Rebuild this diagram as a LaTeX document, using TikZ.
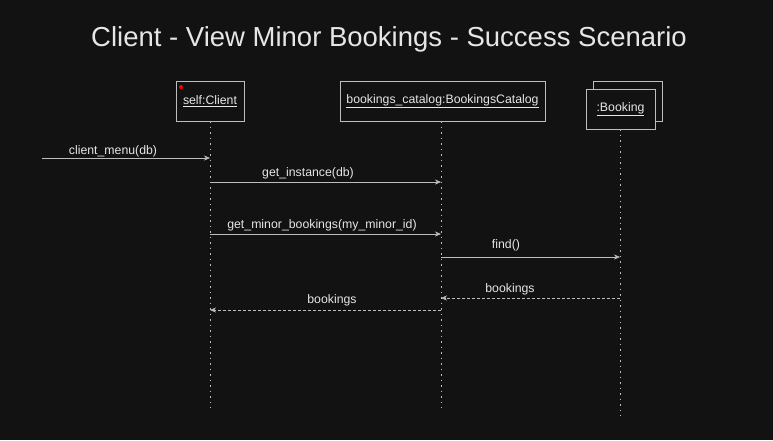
\documentclass[tikz,border=0pt]{standalone}
\usepackage{fontspec}
\setmainfont{Liberation Sans}
\usetikzlibrary{positioning, arrows.meta}

\definecolor{bg}{HTML}{121212}
\definecolor{fg}{HTML}{E6E6E6}
\definecolor{ln}{HTML}{BDBDBD}

\tikzset{
  obj/.style = {rectangle, draw = ln, fill = bg, text = fg, inner sep = 0pt, font = \fontsize{12.3}{14}\selectfont},
  life/.style = {draw = ln, line width = 1pt, dash pattern = on 1.5pt off 4pt},
  msg/.style = {draw = ln, -{Stealth[length = 6pt, width = 5pt]}},
  ret/.style = {msg, dash pattern = on 3pt off 2pt},
  lbl/.style = {text = fg, font = \fontsize{12.3}{14}\selectfont, inner sep = 2pt}
}

\begin{document}
\begin{tikzpicture}[x = 1pt, y = -1pt]
        \fill[bg] (0, 0) rectangle (773, 440);
        \useasboundingbox (0, 0) rectangle (773, 440);

        \node[text = fg, font = \fontsize{27.5}{32}\selectfont] (title) at (389, 39) {Client - View Minor Bookings - Success Scenario};

        \node[obj, minimum width = 68pt, minimum height = 40pt] (client) at (210, 101) {\underline{self:Client}};
        \node[obj, minimum width = 205pt, minimum height = 40pt] (catalog) at (442.5, 101) {\underline{bookings\_catalog:BookingsCatalog}};
        \node[obj, minimum width = 69pt, minimum height = 40pt] (bookingB) at (627.5, 101) {};
        \node[obj, minimum width = 69pt, minimum height = 40pt] (booking) at (620.5, 109) {\underline{:Booking}};
        \fill[red] (181, 87) circle (2pt);

        \coordinate (clientEnd) at (210, 408);
        \coordinate (catalogEnd) at (441, 408);
        \coordinate (bookingEnd) at (620, 416);
        \draw[life] (client.south) -- (clientEnd);
        \draw[life] (catalog.south -| catalogEnd) -- (catalogEnd);
        \draw[life] (booking.south -| bookingEnd) -- (bookingEnd);

        % messages
        \coordinate (start) at (42, 158);
        \coordinate (m1) at (210, 158);
        \coordinate (m2a) at (210, 182);
        \coordinate (m2b) at (441, 182);
        \coordinate (m3a) at (210, 234);
        \coordinate (m3b) at (441, 234);
        \coordinate (m4a) at (441, 257);
        \coordinate (m4b) at (620, 257);
        \coordinate (r1a) at (620, 298);
        \coordinate (r1b) at (441, 298);
        \coordinate (r2a) at (441, 310);
        \coordinate (r2b) at (210, 310);

        \draw[msg] (start) -- (m1);
        \draw[msg] (m2a) -- (m2b);
        \draw[msg] (m3a) -- (m3b);
        \draw[msg] (m4a) -- (m4b);
        \draw[ret] (r1a) -- (r1b);
        \draw[ret] (r2a) -- (r2b);

        \node[lbl] (l1) at (113, 151) {client\_menu(db)};
        \node[lbl] (l2) at (308, 173) {get\_instance(db)};
        \node[lbl] (l3) at (322, 225) {get\_minor\_bookings(my\_minor\_id)};
        \node[lbl] (l4) at (506, 245) {find()};
        \node[lbl] (l5) at (510, 289) {bookings};
        \node[lbl] (l6) at (332, 300) {bookings};
      \end{tikzpicture}
\end{document}
